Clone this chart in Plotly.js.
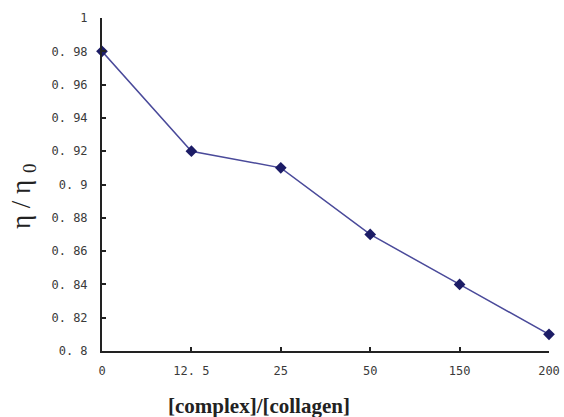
<!DOCTYPE html>
<html>
<head>
<meta charset="utf-8">
<script src="https://cdn.plot.ly/plotly-3.0.1.min.js"></script>
<style>html,body{margin:0;padding:0;background:#fff;}#chart{width:564px;height:417px;}</style>
</head>
<body>
<div id="chart"></div>
<script>
var categories = ["0", "12. 5", "25", "50", "150", "200"];
var ratioValues = [0.98, 0.92, 0.91, 0.87, 0.84, 0.81];
var yTickValues = [0.8, 0.82, 0.84, 0.86, 0.88, 0.9, 0.92, 0.94, 0.96, 0.98, 1];
var yTickLabels = ["0. 8", "0. 82", "0. 84", "0. 86", "0. 88", "0. 9", "0. 92", "0. 94", "0. 96", "0. 98", "1"];

var xIdx = categories.map(function (c, i) { return i; });
var tickFont = {family: "'DejaVu Sans Mono', 'Liberation Mono', monospace", size: 12, color: "#3a3a3a"};

var trace = {
  x: xIdx,
  y: ratioValues,
  type: "scatter",
  mode: "lines+markers",
  line: {color: "#4a4a9a", width: 1.5},
  marker: {symbol: "diamond", size: 9, color: "#1c1c66"},
  cliponaxis: false,
  showlegend: false
};

var layout = {
  width: 564,
  height: 417,
  margin: {l: 102, r: 15, t: 18, b: 66},
  paper_bgcolor: "#ffffff",
  plot_bgcolor: "#ffffff",
  xaxis: {
    range: [0, categories.length - 1],
    tickvals: xIdx,
    ticktext: categories,
    showgrid: false,
    zeroline: false,
    showline: true,
    linecolor: "#222",
    linewidth: 2,
    ticks: "inside",
    ticklen: 4,
    tickwidth: 2,
    tickcolor: "#222",
    tickfont: tickFont,
    ticklabelstandoff: 8
  },
  yaxis: {
    range: [0.8, 1],
    tickvals: yTickValues,
    ticktext: yTickLabels,
    showgrid: false,
    zeroline: false,
    showline: true,
    linecolor: "#222",
    linewidth: 2,
    ticks: "inside",
    ticklen: 4,
    tickwidth: 2,
    tickcolor: "#222",
    tickfont: tickFont,
    ticklabelstandoff: 10
  },
  annotations: [
    {
      text: "η / η <sub>0</sub>",
      xref: "paper", yref: "paper",
      x: (23 - 102) / 447, y: (351 - 197) / 333,
      xanchor: "center", yanchor: "middle",
      textangle: -90,
      showarrow: false,
      font: {family: "'Liberation Serif', 'DejaVu Serif', serif", size: 27, color: "#222"}
    },
    {
      text: "<b>[complex]/[collagen]</b>",
      xref: "paper", yref: "paper",
      x: (259 - 102) / 447, y: (351 - 406) / 333,
      xanchor: "center", yanchor: "middle",
      showarrow: false,
      font: {family: "'Liberation Serif', 'DejaVu Serif', serif", size: 21, color: "#222"}
    }
  ]
};

Plotly.newPlot("chart", [trace], layout, {displayModeBar: false, staticPlot: true});
</script>
</body>
</html>
